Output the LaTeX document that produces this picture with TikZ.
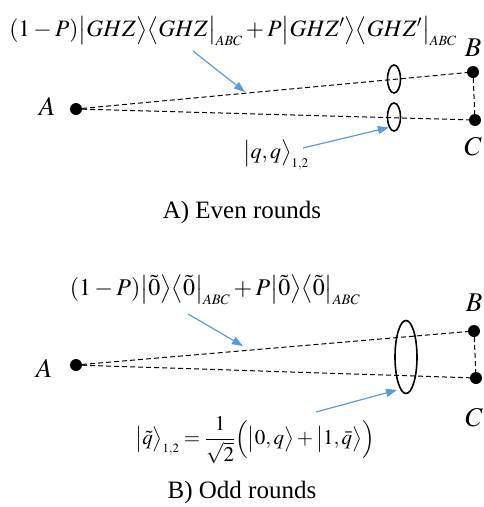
\documentclass[tikz,border=0pt]{standalone}
\usepackage{mathptmx}
\usepackage[no-math]{fontspec}
\setmainfont{Liberation Serif}
\usetikzlibrary{arrows.meta,shapes.geometric}
\definecolor{arrowblue}{RGB}{91,155,213}
\tikzset{
  dot/.style={circle,fill=black,inner sep=0pt,minimum size=12pt},
  party/.style={font=\fontsize{27}{29}\selectfont,inner sep=0pt},
  link/.style={black,line width=1pt,dash pattern=on 5pt off 3pt},
  pointer/.style={arrowblue,line width=1.2pt,-{Triangle[length=11pt,width=8pt]}},
  formula/.style={font=\fontsize{23.5}{25}\selectfont,inner sep=0pt},
  caption/.style={font=\fontsize{25}{27}\selectfont,inner sep=0pt},
  photon/.style={ellipse,draw=black,line width=1.6pt,inner sep=0pt},
}
\begin{document}
\begin{tikzpicture}[x=1pt,y=-1pt]
  \useasboundingbox (0,0) rectangle (483,507);
  % A) even rounds
  \node[dot] (A1) at (76,109) {};
  \node[dot] (B1) at (473,72) {};
  \node[dot] (C1) at (475,120) {};
  \node[party] (lA1) at (47,106) {$A$};
  \node[party] (lB1) at (473,48) {$B$};
  \node[party] (lC1) at (473,147) {$C$};
  \draw[link] (A1) -- (B1);
  \draw[link] (A1) -- (C1);
  \draw[link] (B1) -- (C1);
  \node[photon,minimum width=13pt,minimum height=28pt] (e1) at (394,79) {};
  \node[photon,minimum width=13pt,minimum height=28pt] (e2) at (394,117) {};
  \node[formula] (f1) at (233,31) {$(1-P)\big|GHZ\big\rangle\big\langle GHZ\big|_{\scriptscriptstyle ABC}+P\big|GHZ'\big\rangle\big\langle GHZ'\big|_{\scriptscriptstyle ABC}$};
  \node[formula,font=\fontsize{22}{24}\selectfont] (f2) at (276,155) {$\big|q,q\big\rangle_{\scriptscriptstyle 1,2}$};
  \coordinate (s1) at (193,51);
  \coordinate (t1) at (245,92);
  \draw[pointer] (s1) -- (t1);
  \coordinate (s2) at (303,148);
  \draw[pointer] (s2) -- (e2.south west);
  \node[caption] (cap1) at (242,212) {A) Even rounds};
  % B) odd rounds
  \node[dot] (A2) at (76,365) {};
  \node[dot] (B2) at (474,331) {};
  \node[dot] (C2) at (476,378) {};
  \node[party] (lA2) at (44,368) {$A$};
  \node[party] (lB2) at (474,303) {$B$};
  \node[party] (lC2) at (474,418) {$C$};
  \draw[link] (A2) -- (B2);
  \draw[link] (A2) -- (C2);
  \draw[link] (B2) -- (C2);
  \node[photon,minimum width=22pt,minimum height=73pt] (e3) at (406,357) {};
  \node[formula,font=\fontsize{24}{26}\selectfont] (f3) at (215,290) {$(1-P)\big|\tilde{0}\big\rangle\big\langle\tilde{0}\big|_{\scriptscriptstyle ABC}+P\big|\tilde{0}\big\rangle\big\langle\tilde{0}\big|_{\scriptscriptstyle ABC}$};
  \node[formula,font=\fontsize{21}{23}\selectfont] (f4) at (255,440) {$\displaystyle\big|\tilde q\big\rangle_{\scriptscriptstyle 1,2}=\frac{1}{\sqrt{2}}\Big(\big|0,q\big\rangle+\big|1,\bar q\big\rangle\Big)$};
  \coordinate (s3) at (188,314);
  \coordinate (t3) at (243,346);
  \draw[pointer] (s3) -- (t3);
  \coordinate (s4) at (316,412);
  \coordinate (t4) at (397,390);
  \draw[pointer] (s4) -- (t4);
  \node[caption] (cap2) at (242,492) {B) Odd rounds};
\end{tikzpicture}
\end{document}
